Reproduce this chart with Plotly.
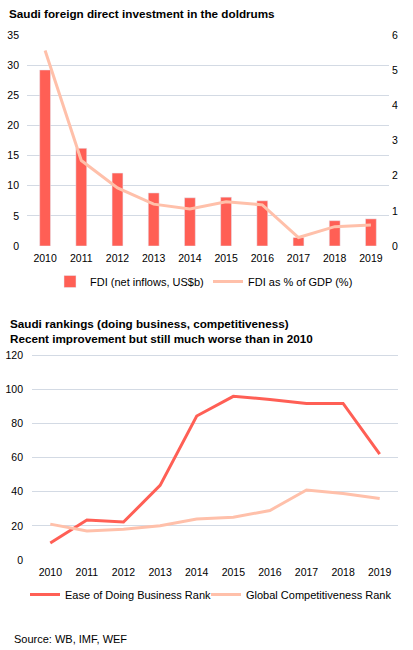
import plotly.graph_objects as go

years = ["2010", "2011", "2012", "2013", "2014", "2015", "2016", "2017", "2018", "2019"]
fdi_usd_b = [29.2, 16.2, 12.1, 8.8, 8.0, 8.1, 7.5, 1.4, 4.2, 4.5]
fdi_pct_gdp = [5.56, 2.43, 1.65, 1.19, 1.05, 1.26, 1.17, 0.24, 0.55, 0.60]
ease_rank = [10, 23.4, 22.2, 43.7, 84.3, 95.8, 94, 91.7, 91.7, 62]
gci_rank = [21, 17, 18, 20, 24, 25, 29, 41, 39, 36]
left_ticks_top = [0, 5, 10, 15, 20, 25, 30, 35]
right_ticks_top = [0, 1, 2, 3, 4, 5, 6]
ticks_bottom = [0, 20, 40, 60, 80, 100, 120]

RED = "#FF5F55"
PEACH = "#FFC0AA"
GRID = "#D3DAE4"
FONT = "Liberation Sans, Arial, sans-serif"
W, H = 413, 650

def px_x(p):
    return p / W

def px_y(p):
    return 1 - p / H

fig = go.Figure()
fig.add_trace(go.Bar(x=years, y=fdi_usd_b, name="FDI (net inflows, US$b)",
                     marker_color=RED, width=0.3, xaxis="x", yaxis="y", legend="legend"))
fig.add_trace(go.Scatter(x=years, y=fdi_pct_gdp, name="FDI as % of GDP (%)", mode="lines",
                         line=dict(color=PEACH, width=3), xaxis="x", yaxis="y2", legend="legend2"))
fig.add_trace(go.Scatter(x=years, y=ease_rank, name="Ease of Doing Business Rank", mode="lines",
                         line=dict(color=RED, width=3), xaxis="x2", yaxis="y3", legend="legend3"))
fig.add_trace(go.Scatter(x=years, y=gci_rank, name="Global Competitiveness Rank", mode="lines",
                         line=dict(color=PEACH, width=3), xaxis="x2", yaxis="y3", legend="legend4"))

tickfont = dict(family=FONT, size=10.5, color="#000")
legfont = dict(family=FONT, size=11, color="#000")

def leg(xpx, ypx):
    return dict(orientation="h", x=px_x(xpx), y=px_y(ypx), xanchor="left", yanchor="top",
                font=legfont, bgcolor="rgba(0,0,0,0)", itemwidth=30)

fig.update_layout(
    width=W, height=H,
    margin=dict(l=0, r=0, t=0, b=0, autoexpand=False),
    paper_bgcolor="white", plot_bgcolor="white",
    font=dict(family=FONT, color="#000"),
    xaxis=dict(domain=[px_x(27), px_x(389)], anchor="y", range=[-0.5, 9.5], showgrid=False,
               showline=False, tickfont=tickfont, ticks="", ticklabelstandoff=4,
               zeroline=False, automargin=False),
    yaxis=dict(domain=[px_y(246), px_y(35)], range=[0, 35], tickmode="array",
               tickvals=left_ticks_top, showgrid=True, gridcolor=GRID, gridwidth=1,
               tickfont=tickfont, zeroline=False, ticklabelstandoff=7, showline=False,
               automargin=False),
    yaxis2=dict(overlaying="y", side="right", range=[0, 6], tickmode="array",
                tickvals=right_ticks_top, showgrid=False, tickfont=tickfont, zeroline=False,
                ticklabelstandoff=2, anchor="x", automargin=False),
    xaxis2=dict(domain=[px_x(32), px_x(398)], anchor="y3", range=[-0.5, 9.5], showgrid=False,
                showline=False, tickfont=tickfont, ticks="", ticklabelstandoff=4,
                zeroline=False, automargin=False),
    yaxis3=dict(domain=[px_y(560), px_y(346.5)], range=[0, 125], tickmode="array",
                tickvals=ticks_bottom, showgrid=True, gridcolor=GRID, gridwidth=1,
                tickfont=tickfont, zeroline=False, ticklabelstandoff=8, anchor="x2",
                automargin=False),
    legend=leg(50, 267),
    legend2=leg(208, 267),
    legend3=leg(25, 580),
    legend4=leg(206, 580),
    showlegend=True,
)

fig.add_annotation(text="<b>Saudi foreign direct investment in the doldrums</b>",
                   x=px_x(7), y=px_y(13), xref="paper", yref="paper", xanchor="left",
                   yanchor="middle", showarrow=False, font=dict(family=FONT, size=11.7, color="#000"))
fig.add_annotation(text="<b>Saudi rankings (doing business, competitiveness)<br>Recent improvement but still much worse than in 2010</b>",
                   x=px_x(8), y=px_y(331), xref="paper", yref="paper", xanchor="left",
                   yanchor="middle", align="left", showarrow=False,
                   font=dict(family=FONT, size=11.7, color="#000"))
fig.add_annotation(text="Source: WB, IMF, WEF",
                   x=px_x(12), y=px_y(639), xref="paper", yref="paper", xanchor="left",
                   yanchor="middle", showarrow=False, font=dict(family=FONT, size=11, color="#000"))

fig.write_html("out.html")
